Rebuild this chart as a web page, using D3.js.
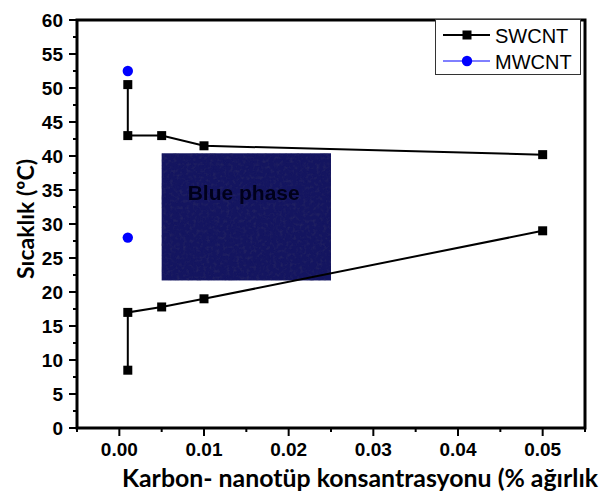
<!DOCTYPE html>
<html>
<head>
<meta charset="utf-8">
<script src="https://cdn.jsdelivr.net/npm/d3@7"></script>
<style>
  html, body { margin: 0; padding: 0; background: #fff; }
  svg { display: block; }
</style>
</head>
<body>
<svg id="chart" width="601" height="494"></svg>
<script>
// ---- data ----
const swConcUpper = [0.001, 0.001, 0.005, 0.01, 0.05];
const swTempUpper = [50.5, 43.0, 43.0, 41.5, 40.2];
const swConcLower = [0.001, 0.001, 0.005, 0.01, 0.05];
const swTempLower = [8.5, 17.0, 17.8, 19.0, 29.0];
const mwConc = [0.001, 0.001];
const mwTemp = [52.5, 28.0];
const xTicks = [0, 0.01, 0.02, 0.03, 0.04, 0.05];
const xTickLabels = ["0.00", "0.01", "0.02", "0.03", "0.04", "0.05"];
const yTicks = [0, 5, 10, 15, 20, 25, 30, 35, 40, 45, 50, 55, 60];
const seriesNames = ["SWCNT", "MWCNT"];
const xTitle = "Karbon- nanotüp konsantrasyonu (% ağırlık";
const yTitle = "Sıcaklık (ºC)";
const insetLabel = "Blue phase";
const insetConc = [0.005, 0.025];
const insetTemp = [21.7, 40.4];

// ---- layout ----
const svg = d3.select("#chart");
const x = d3.scaleLinear().domain([-0.005, 0.055]).range([77, 585]);
const y = d3.scaleLinear().domain([0, 60]).range([428, 20]);

// filter for inset texture
const defs = svg.append("defs");
const f = defs.append("filter").attr("id", "noise").attr("x", 0).attr("y", 0).attr("width", 1).attr("height", 1);
f.append("feTurbulence").attr("type", "fractalNoise").attr("baseFrequency", 0.3).attr("numOctaves", 2).attr("seed", 7).attr("result", "t");
f.append("feColorMatrix").attr("in", "t").attr("type", "matrix")
  .attr("values", "0 0 0 0 0.02  0 0 0 0 0.02  0 0 0 0 0.12  0 0 0 -2.6 1.35").attr("result", "c");
f.append("feComposite").attr("in", "c").attr("in2", "SourceGraphic").attr("operator", "in");
const blur = defs.append("filter").attr("id", "soft");
blur.append("feGaussianBlur").attr("stdDeviation", 0.6);

// inset "Blue phase"
const ix0 = x(insetConc[0]), ix1 = x(insetConc[1]);
const iy0 = y(insetTemp[1]), iy1 = y(insetTemp[0]);
svg.append("rect").attr("x", ix0).attr("y", iy0).attr("width", ix1 - ix0).attr("height", iy1 - iy0)
  .attr("fill", "#141560");
svg.append("rect").attr("x", ix0).attr("y", iy0).attr("width", ix1 - ix0).attr("height", iy1 - iy0)
  .attr("fill", "#000").attr("filter", "url(#noise)").attr("opacity", 0.7);
svg.append("text").attr("x", ix0 + 26).attr("y", iy0 + 47)
  .attr("font-family", "Liberation Sans, Arial, sans-serif").attr("font-weight", "bold")
  .attr("font-size", 21).attr("fill", "#05051a").attr("filter", "url(#soft)").text(insetLabel);

// axes
const yAxis = svg.append("g");
yTicks.forEach(t => {
  yAxis.append("line").attr("x1", 69).attr("x2", 77).attr("y1", y(t)).attr("y2", y(t))
    .attr("stroke", "#000").attr("stroke-width", 2);
  yAxis.append("text").attr("x", 63).attr("y", y(t) + 7).attr("text-anchor", "end")
    .attr("font-family", "Liberation Sans, Arial, sans-serif").attr("font-weight", "bold")
    .attr("font-size", 19).text(t);
});
d3.range(2.5, 60, 5).forEach(t => {
  yAxis.append("line").attr("x1", 73).attr("x2", 77).attr("y1", y(t)).attr("y2", y(t))
    .attr("stroke", "#000").attr("stroke-width", 2);
});
const xAxis = svg.append("g");
xTicks.forEach((t, i) => {
  xAxis.append("line").attr("x1", x(t)).attr("x2", x(t)).attr("y1", 428).attr("y2", 436)
    .attr("stroke", "#000").attr("stroke-width", 2);
  xAxis.append("text").attr("x", x(t)).attr("y", 456).attr("text-anchor", "middle")
    .attr("font-family", "Liberation Sans, Arial, sans-serif").attr("font-weight", "bold")
    .attr("font-size", 19).text(xTickLabels[i]);
});
d3.range(-0.005, 0.056, 0.01).forEach(t => {
  xAxis.append("line").attr("x1", x(t)).attr("x2", x(t)).attr("y1", 428).attr("y2", 432)
    .attr("stroke", "#000").attr("stroke-width", 2);
});

// frame
svg.append("path")
  .attr("d", `M${x(-0.005)},${y(0)} L${x(-0.005)},${y(60)} L${x(0.055)},${y(60)} L${x(0.055)},${y(0)} Z`)
  .attr("fill", "none").attr("stroke", "#000").attr("stroke-width", 3);

// titles
svg.append("text").attr("x", 122).attr("y", 487)
  .attr("font-family", "Lato, sans-serif").attr("font-weight", "bold")
  .attr("font-size", 25).attr("textLength", 476).attr("lengthAdjust", "spacingAndGlyphs").text(xTitle);
svg.append("text").attr("transform", "translate(34,219) rotate(-90)").attr("text-anchor", "middle")
  .attr("font-family", "Lato, sans-serif").attr("font-weight", "bold")
  .attr("font-size", 23).text(yTitle);

// lines
const line = d3.line().x(d => x(d[0])).y(d => y(d[1]));
const upper = swConcUpper.map((c, i) => [c, swTempUpper[i]]);
const lower = swConcLower.map((c, i) => [c, swTempLower[i]]);
[upper, lower].forEach(pts => {
  svg.append("path").attr("d", line(pts)).attr("fill", "none")
    .attr("stroke", "#000").attr("stroke-width", 2);
  svg.selectAll(null).data(pts).enter().append("rect")
    .attr("x", d => x(d[0]) - 4.5).attr("y", d => y(d[1]) - 4.5)
    .attr("width", 9).attr("height", 9).attr("fill", "#000");
});
const mw = mwConc.map((c, i) => [c, mwTemp[i]]);
svg.selectAll(null).data(mw).enter().append("circle")
  .attr("cx", d => x(d[0])).attr("cy", d => y(d[1])).attr("r", 5.2).attr("fill", "#0000ff");

// legend
const lg = svg.append("g");
lg.append("rect").attr("x", 435.5).attr("y", 19.5).attr("width", 145).attr("height", 55)
  .attr("fill", "#fff").attr("stroke", "#333").attr("stroke-width", 1);
const rows = [35, 61];
rows.forEach((ry, i) => {
  lg.append("line").attr("x1", 443).attr("x2", 490).attr("y1", ry).attr("y2", ry)
    .attr("stroke", i === 0 ? "#000" : "#0000ff").attr("stroke-width", i === 0 ? 2 : 1);
  if (i === 0) {
    lg.append("rect").attr("x", 462.5).attr("y", ry - 4.5).attr("width", 9).attr("height", 9).attr("fill", "#000");
  } else {
    lg.append("circle").attr("cx", 467).attr("cy", ry).attr("r", 5.2).attr("fill", "#0000ff");
  }
  lg.append("text").attr("x", 495).attr("y", ry + 7.5)
    .attr("font-family", "Liberation Sans, Arial, sans-serif").attr("font-size", 20)
    .text(seriesNames[i]);
});
</script>
</body>
</html>
